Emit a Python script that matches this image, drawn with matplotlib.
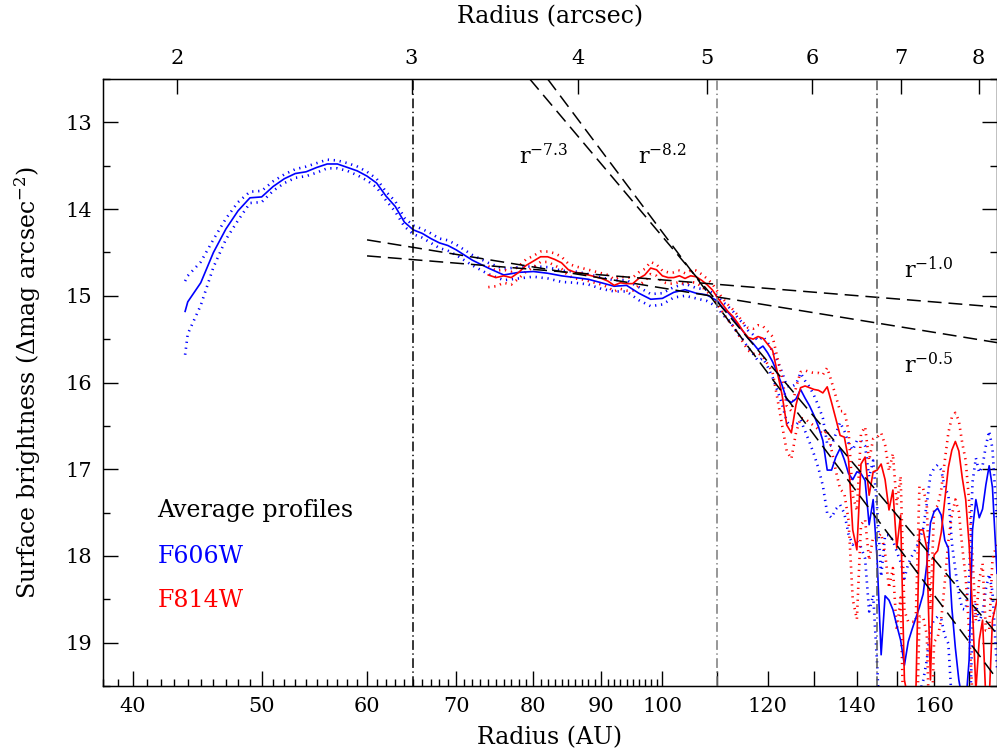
import matplotlib
matplotlib.use("Agg")
import matplotlib.pyplot as plt
import numpy as np
from matplotlib.ticker import FixedLocator, FixedFormatter, NullLocator, NullFormatter

plt.rcParams["font.family"] = "DejaVu Serif"
plt.rcParams["mathtext.fontset"] = "dejavuserif"
plt.rcParams["lines.scale_dashes"] = False

# AU per arcsec (distance in pc)
dist = 21.6

# ---- F606W average profile (radius in AU, surface brightness in mag/arcsec^2)
blue_r = [43.8,
          44, 45, 46, 47, 48, 49, 50, 51, 52, 53, 54, 55, 56, 57, 58, 59, 60,
          61, 62, 63, 64, 65, 66, 67, 68, 69, 70,
          72, 74, 76, 78, 80, 82, 84, 86, 88, 90, 92, 94, 96, 98, 100, 102,
          104, 106, 108, 110,
          111, 112, 113, 114, 115, 116, 117, 118, 119, 120,
          121, 122, 123, 124, 125, 126, 127, 128, 129, 130,
          131, 132, 133, 134, 135, 136, 137, 138, 139, 140,
          141, 142, 143, 144, 145, 146, 147, 148, 149, 150,
          151, 152, 153, 154, 155, 156, 157, 158, 159, 160,
          161, 162, 163, 164, 165, 166, 167, 168, 169, 170,
          171, 172, 173, 174, 175, 176, 177, 178.4]
blue_mag = [15.18,
            15.07, 14.85, 14.50, 14.23, 14.02, 13.87, 13.86, 13.74, 13.65, 13.59,
            13.57, 13.52, 13.48, 13.48, 13.52, 13.56, 13.62, 13.70, 13.85, 13.97,
            14.15, 14.24, 14.28, 14.34, 14.39, 14.42, 14.47,
            14.59, 14.68, 14.76, 14.73, 14.72, 14.74, 14.77, 14.79, 14.81, 14.85,
            14.89, 14.88, 14.97, 15.04, 15.03, 14.96, 14.93, 14.97, 14.99, 15.06,
            15.14, 15.19, 15.26, 15.34, 15.41, 15.49, 15.55, 15.62, 15.58, 15.66,
            15.76, 15.89, 16.03, 16.20, 16.23, 16.19, 16.08, 16.18, 16.27, 16.38,
            16.51, 16.67, 17.01, 17.01, 16.86, 16.76, 16.89, 17.05, 17.12, 17.03,
            17.05, 17.13, 17.64, 17.35, 18.05, 19.14, 18.46, 18.51, 18.62, 18.80,
            18.97, 19.26, 18.99, 18.85, 18.72, 18.59, 18.44, 18.10, 17.62, 17.49,
            17.45, 17.53, 17.82, 17.91, 18.60, 19.06, 19.43, 19.66, 19.72, 19.20,
            17.70, 17.35, 17.56, 17.46, 17.18, 16.96, 17.21, 18.20]
blue_err_up = [0.35,
               0.30, 0.24, 0.15, 0.12, 0.10, 0.07, 0.07, 0.06, 0.05, 0.05, 0.06,
               0.05, 0.05, 0.04, 0.05, 0.05, 0.05, 0.05, 0.05, 0.06, 0.05, 0.05,
               0.05, 0.06, 0.05, 0.06, 0.06,
               0.06, 0.06, 0.07, 0.06, 0.06, 0.07, 0.06, 0.07, 0.06, 0.06,
               0.07, 0.06, 0.07, 0.06, 0.06, 0.06, 0.07, 0.06, 0.06, 0.06,
               0.07, 0.07, 0.08, 0.08, 0.09, 0.09, 0.10, 0.10, 0.11, 0.12,
               0.12, 0.14, 0.15, 0.16, 0.18, 0.17, 0.19, 0.20, 0.22, 0.23,
               0.24, 0.26, 0.30, 0.28, 0.27, 0.30, 0.33, 0.35, 0.34, 0.36,
               0.38, 0.40, 0.55, 0.45, 0.60, 0.90, 0.70, 0.75, 0.80, 0.85,
               0.90, 1.00, 0.90, 0.85, 0.80, 0.78, 0.75, 0.70, 0.55, 0.50,
               0.50, 0.52, 0.60, 0.62, 0.75, 0.90, 1.00, 1.05, 1.10, 0.95,
               0.55, 0.48, 0.52, 0.50, 0.45, 0.40, 0.45, 0.60]
blue_err_dn = [0.50,
               0.37, 0.26, 0.17, 0.12, 0.11, 0.06, 0.06, 0.05, 0.05, 0.05, 0.05,
               0.06, 0.05, 0.05, 0.04, 0.05, 0.05, 0.05, 0.05, 0.06, 0.05, 0.05,
               0.05, 0.05, 0.06, 0.06, 0.06,
               0.06, 0.07, 0.06, 0.07, 0.06, 0.06, 0.07, 0.06, 0.06, 0.07,
               0.06, 0.07, 0.08, 0.08, 0.07, 0.06, 0.07, 0.06, 0.07, 0.07,
               0.08, 0.08, 0.09, 0.10, 0.10, 0.11, 0.12, 0.13, 0.14, 0.16,
               0.18, 0.20, 0.22, 0.25, 0.28, 0.30, 0.35, 0.38, 0.42, 0.45,
               0.48, 0.52, 0.50, 0.55, 0.60, 0.65, 0.62, 0.70, 0.75, 0.80,
               0.85, 0.90, 1.00, 1.10, 1.20, 1.20, 1.10, 1.10, 1.00, 1.00,
               1.00, 1.00, 1.00, 1.00, 1.00, 1.00, 1.00, 1.10, 1.20, 1.25,
               1.25, 1.20, 1.10, 1.10, 1.10, 1.00, 1.00, 1.00, 1.00, 1.00,
               1.10, 1.20, 1.20, 1.20, 1.20, 1.25, 1.20, 1.10]

# ---- F814W average profile
red_r = [74, 75, 76, 77, 78, 79, 80, 81, 82, 83, 84, 85, 86, 87, 88, 89, 90,
         91, 92, 93, 94, 95, 96, 97, 98, 99, 100, 101, 102, 103, 104, 105,
         106, 107, 108, 109, 110,
         111, 112, 113, 114, 115, 116, 117, 118, 119, 120,
         121, 122, 123, 124, 125, 126, 127, 128, 129, 130,
         131, 132, 133, 134, 135, 136, 137, 138, 139, 140,
         141, 142, 143, 144, 145, 146, 147, 148, 149, 150,
         151, 152, 153, 154, 155, 156, 157, 158, 159, 160,
         161, 162, 163, 164, 165, 166, 167, 168, 169, 170,
         171, 172, 173, 174, 175, 176, 177, 178.4]
red_mag = [14.76, 14.79, 14.77, 14.79, 14.73, 14.65, 14.60, 14.55, 14.55, 14.58,
           14.62, 14.70, 14.73, 14.74, 14.76, 14.78, 14.80, 14.83, 14.88, 14.85,
           14.86, 14.86, 14.80, 14.76, 14.68, 14.70, 14.77, 14.79, 14.79, 14.77,
           14.80, 14.77, 14.78, 14.82, 14.87, 14.93, 15.02,
           15.10, 15.18, 15.24, 15.32, 15.41, 15.48, 15.50, 15.47, 15.49, 15.56,
           15.63, 15.88, 16.14, 16.49, 16.58, 16.26, 16.06, 16.04, 16.06, 16.08,
           16.09, 16.12, 16.05, 16.23, 16.42, 16.61, 16.63, 16.89, 17.70, 17.93,
           16.94, 16.86, 17.30, 17.03, 17.01, 16.94, 17.12, 17.47, 17.24, 17.91,
           17.53, 19.43, 19.66, 19.66, 19.66, 17.70, 17.70, 17.91, 19.43, 17.99,
           17.94, 17.73, 17.35, 16.98, 16.78, 16.68, 16.79, 17.10, 17.35, 17.87,
           18.62, 19.55, 18.97, 18.74, 19.66, 19.66, 18.74, 18.51]
red_err_up = [0.10, 0.08, 0.07, 0.07, 0.07, 0.07, 0.06, 0.06, 0.06, 0.07,
              0.07, 0.07, 0.07, 0.06, 0.06, 0.06, 0.06, 0.07, 0.07, 0.07,
              0.07, 0.07, 0.07, 0.07, 0.07, 0.06, 0.06, 0.06, 0.06, 0.06,
              0.06, 0.06, 0.07, 0.07, 0.07, 0.07, 0.07,
              0.07, 0.08, 0.08, 0.09, 0.10, 0.11, 0.12, 0.13, 0.14, 0.15,
              0.16, 0.17, 0.20, 0.22, 0.25, 0.20, 0.18, 0.18, 0.18, 0.19,
              0.20, 0.21, 0.22, 0.24, 0.26, 0.28, 0.30, 0.33, 0.40, 0.45,
              0.35, 0.35, 0.40, 0.38, 0.38, 0.36, 0.40, 0.45, 0.42, 0.50,
              0.45, 0.80, 0.90, 0.90, 0.90, 0.50, 0.48, 0.50, 0.80, 0.52,
              0.52, 0.50, 0.45, 0.40, 0.38, 0.33, 0.35, 0.40, 0.45, 0.50,
              0.60, 0.80, 0.70, 0.65, 0.80, 0.80, 0.70, 0.65]
red_err_dn = [0.14, 0.10, 0.08, 0.08, 0.07, 0.07, 0.07, 0.06, 0.06, 0.07,
              0.07, 0.07, 0.07, 0.07, 0.07, 0.07, 0.07, 0.07, 0.07, 0.07,
              0.08, 0.08, 0.08, 0.07, 0.07, 0.07, 0.07, 0.07, 0.07, 0.07,
              0.07, 0.07, 0.07, 0.07, 0.08, 0.08, 0.08,
              0.09, 0.10, 0.11, 0.12, 0.13, 0.15, 0.17, 0.19, 0.21, 0.23,
              0.25, 0.30, 0.35, 0.30, 0.30, 0.32, 0.35, 0.38, 0.40, 0.42,
              0.45, 0.48, 0.50, 0.55, 0.60, 0.62, 0.65, 0.70, 0.80, 0.80,
              0.70, 0.72, 0.75, 0.75, 0.78, 0.80, 0.85, 0.90, 0.90, 0.95,
              0.95, 1.00, 1.00, 1.00, 1.00, 1.00, 1.00, 1.00, 1.00, 1.00,
              1.00, 1.00, 0.95, 0.85, 0.75, 0.67, 0.70, 0.80, 0.90, 1.00,
              1.00, 1.00, 1.00, 1.00, 1.00, 1.00, 1.00, 1.00]

# ---- power-law fits: end points (AU, mag) and labels
fit_r = {"-7.3": [79.5, 178.4], "-8.2": [82.0, 178.4],
         "-1.0": [60.0, 178.4], "-0.5": [60.0, 178.4]}
fit_mag = {"-7.3": [12.50, 18.90], "-8.2": [12.50, 19.42],
           "-1.0": [14.355, 15.54], "-0.5": [14.54, 15.13]}
fit_label_pos = {"-7.3": (78.0, 13.485), "-8.2": (95.8, 13.485),
                 "-1.0": (152.0, 14.79), "-0.5": (152.0, 15.89)}

# boundaries (AU) marked by dash-dot lines
bounds = [65, 110, 145]
bound_colors = ["black", "#7a7a7a", "#555555"]

au_ticks = [40, 50, 60, 70, 80, 90, 100, 110, 120, 130, 140, 150, 160, 170]
au_labels = ["40", "50", "60", "70", "80", "90", "100", "", "120", "", "140",
             "", "160", ""]
au_minor = [38, 39, 41, 42, 43, 44, 45, 46, 47, 48, 49, 51, 52, 53, 54, 55, 56,
            57, 58, 59, 61, 62, 63, 64, 65, 66, 67, 68, 69, 71, 72, 73, 74, 75,
            76, 77, 78, 79, 81, 82, 83, 84, 85, 86, 87, 88, 89, 91, 92, 93, 94,
            95, 96, 97, 98, 99]
arcsec_ticks = [2, 3, 4, 5, 6, 7, 8]

W, H = 997, 753
fig = plt.figure(figsize=(W / 100, H / 100), dpi=100)
ax = fig.add_axes([103 / W, 1 - 686 / H, 1 - 103 / W, (686 - 79) / H])

dot = (0, (0.9, 3.4))
for r, m, up, dn, c in [(blue_r, blue_mag, blue_err_up, blue_err_dn, "#0000ff"),
                        (red_r, red_mag, red_err_up, red_err_dn, "#ff0000")]:
    r = np.array(r)
    m = np.array(m)
    ax.plot(r, m, color=c, lw=1.2, zorder=3)
    ax.plot(r, m - np.array(up), color=c, lw=1.9, ls=dot, zorder=2)
    ax.plot(r, m + np.array(dn), color=c, lw=1.9, ls=dot, zorder=2)

for key in fit_r:
    ax.plot(fit_r[key], fit_mag[key], color="black", lw=1.1,
            ls=(0, (10, 5)), zorder=4)
    tx, ty = fit_label_pos[key]
    ax.text(tx, ty, "r$^{" + key.replace("-", "\u2212") + "}$", fontsize=16,
            va="baseline", ha="left")

for b, c in zip(bounds, bound_colors):
    ax.axvline(b, color=c, lw=1.1, ls=(0, (7, 2.5, 1, 2.5)), zorder=4)

ax.set_xscale("log")
ax.set_xlim(38, 178.4)
ax.set_ylim(19.5, 12.5)
ax.xaxis.set_major_locator(FixedLocator(au_ticks))
ax.xaxis.set_major_formatter(FixedFormatter(au_labels))
ax.xaxis.set_minor_locator(FixedLocator(au_minor))
ax.xaxis.set_minor_formatter(NullFormatter())
ax.yaxis.set_major_locator(FixedLocator([13, 14, 15, 16, 17, 18, 19]))
ax.yaxis.set_minor_locator(FixedLocator([12.5, 13.5, 14.5, 15.5, 16.5, 17.5,
                                         18.5, 19.5]))
ax.tick_params(which="both", direction="in", top=False, right=True,
               labelsize=15, width=1)
ax.tick_params(which="major", length=11, pad=8)
ax.tick_params(which="minor", length=5)
for s in ax.spines.values():
    s.set_linewidth(1.0)

ax2 = ax.twiny()
ax2.set_xscale("log")
ax2.set_xlim(38 / dist, 178.4 / dist)
ax2.xaxis.set_major_locator(FixedLocator(arcsec_ticks))
ax2.xaxis.set_major_formatter(FixedFormatter([str(t) for t in arcsec_ticks]))
ax2.xaxis.set_minor_locator(NullLocator())
ax2.xaxis.set_minor_formatter(NullFormatter())
ax2.tick_params(direction="in", length=11, width=1, labelsize=15, pad=8)

ax.text(41.76, 17.546, "Average profiles", fontsize=17, va="baseline")
ax.text(41.76, 18.077, "F606W", fontsize=17, color="#0000ff", va="baseline")
ax.text(41.76, 18.585, "F814W", fontsize=17, color="#ff0000", va="baseline")

fig.text(550 / W, 1 - 738 / H, "Radius (AU)", fontsize=17,
         ha="center", va="center")
fig.text(550 / W, 1 - 17 / H, "Radius (arcsec)", fontsize=17,
         ha="center", va="center")
fig.text(28 / W, 1 - 383 / H, "Surface brightness (\u0394mag arcsec$^{-2}$)",
         fontsize=17, rotation=90, ha="center", va="center")

fig.savefig("out.png", dpi=100)
